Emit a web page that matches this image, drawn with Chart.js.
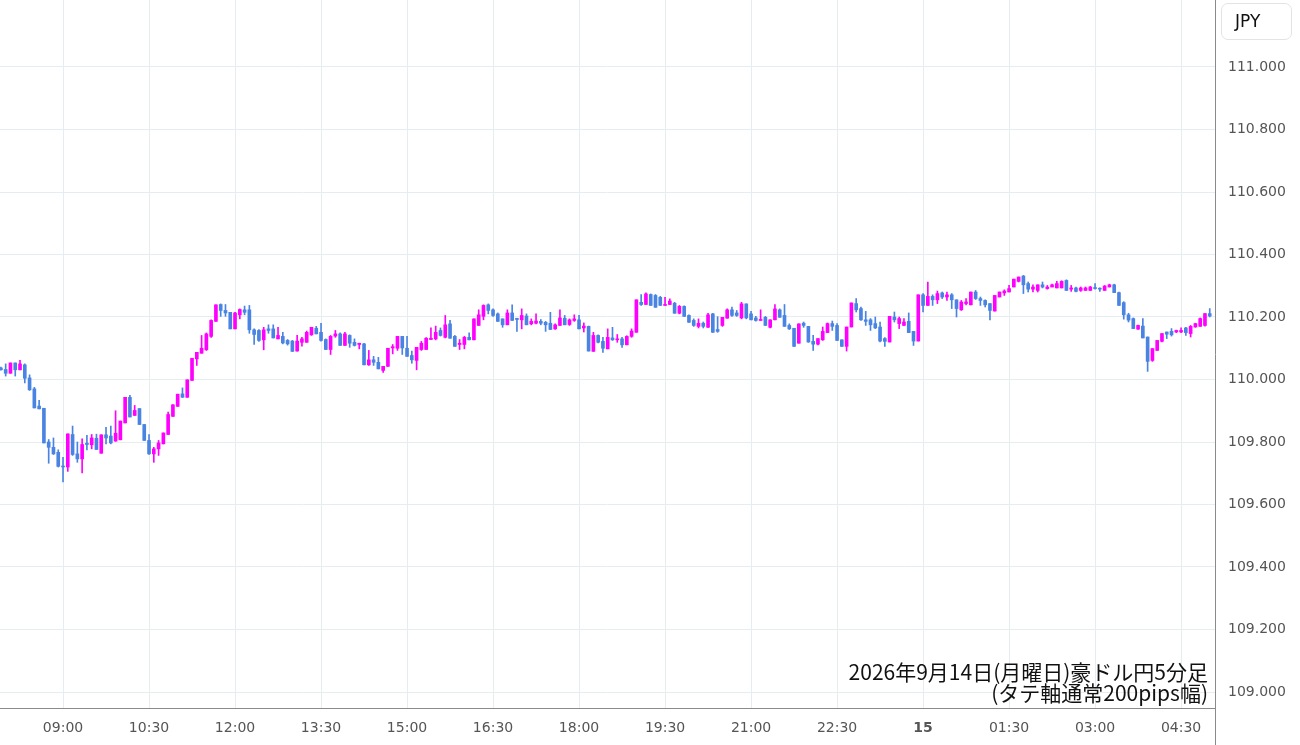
<!DOCTYPE html>
<html>
<head>
<meta charset="utf-8">
<script src="https://cdn.jsdelivr.net/npm/chart.js@4.4.1/dist/chart.umd.min.js"></script>
<style>
  html, body { margin: 0; padding: 0; background: #fff; }
  #wrap { position: relative; width: 1300px; height: 745px; }
  #jpy {
    position: absolute; left: 1221px; top: 3px; width: 71px; height: 37px;
    border: 1px solid #e3e3e3; border-radius: 7px; box-sizing: border-box;
    font: 17px "DejaVu Sans", sans-serif; color: #111; line-height: 35px; padding-left: 13px;
  }
</style>
</head>
<body>
<div id="wrap">
  <canvas id="chartContainer" width="1300" height="745"></canvas>
  <div id="jpy">JPY</div>
</div>
<script>
// 5-minute candles, index 0 = 09:00 on 9/14, first candle 07:55
const firstIndex = -13;
const opens = [
  110.037,110.032,110.020,110.053,110.031,110.047,110.005,109.970,109.915,109.908,109.800,109.783,109.767,
  109.722,109.720,109.824,109.762,109.746,109.796,109.791,109.812,109.764,109.823,109.819,109.803,109.807,109.861,109.943,109.885,
  109.907,109.856,109.805,109.762,109.778,109.794,109.824,109.882,109.914,109.954,109.943,109.997,110.066,110.084,110.095,110.138,
  110.186,110.240,110.221,110.215,110.162,110.207,110.223,110.223,110.159,110.157,110.127,110.162,110.162,110.130,110.138,110.125,
  110.123,110.091,110.119,110.119,110.143,110.164,110.151,110.128,110.096,110.139,110.146,110.109,110.141,110.119,110.112,110.114,
  110.047,110.063,110.055,110.029,110.042,110.101,110.100,110.138,110.100,110.077,110.061,110.096,110.096,110.128,110.130,110.157,
  110.135,110.178,110.138,110.112,110.112,110.135,110.127,110.173,110.202,110.239,110.223,110.210,110.194,110.175,110.213,110.196,
  110.191,110.203,110.178,110.180,110.186,110.183,110.180,110.162,110.173,110.196,110.176,110.189,110.191,110.165,110.170,110.090,
  110.141,110.122,110.098,110.133,110.127,110.130,110.111,110.138,110.151,110.247,110.240,110.272,110.269,110.263,110.237,110.240,
  110.244,110.212,110.234,110.205,110.189,110.170,110.180,110.167,110.210,110.160,110.173,110.196,110.223,110.213,110.197,110.242,
  110.210,110.197,110.189,110.199,110.167,110.191,110.223,110.205,110.173,110.164,110.116,110.180,110.170,110.122,110.113,110.127,
  110.150,110.179,110.173,110.127,110.106,110.168,110.243,110.227,110.191,110.191,110.179,110.168,110.131,110.120,110.200,110.179,
  110.173,110.186,110.154,110.123,110.271,110.237,110.266,110.255,110.277,110.264,110.271,110.255,110.223,110.243,110.239,110.280,
  110.259,110.253,110.243,110.219,110.264,110.277,110.280,110.296,110.314,110.331,110.307,110.289,110.285,110.303,110.291,110.296,
  110.293,110.293,110.317,110.289,110.293,110.285,110.285,110.285,110.293,110.291,110.285,110.296,110.303,110.278,110.246,110.207,
  110.195,110.161,110.171,110.136,110.061,110.093,110.122,110.152,110.154,110.152,110.152,110.165,110.147,110.168,110.170,110.173,
  110.211
];
const highs = [
  110.040,110.050,110.053,110.053,110.061,110.050,110.015,109.975,109.933,109.908,109.808,109.813,109.775,
  109.751,109.826,109.851,109.800,109.810,109.821,109.824,109.825,109.823,109.847,109.851,109.900,109.867,109.943,109.949,109.917,
  109.907,109.856,109.824,109.783,109.805,109.829,109.896,109.920,109.953,109.973,109.999,110.068,110.087,110.141,110.149,110.191,
  110.239,110.242,110.240,110.215,110.215,110.226,110.235,110.237,110.162,110.160,110.167,110.175,110.175,110.167,110.151,110.128,
  110.125,110.141,110.135,110.155,110.167,110.170,110.180,110.130,110.141,110.157,110.149,110.151,110.143,110.130,110.116,110.116,
  110.093,110.074,110.071,110.042,110.100,110.112,110.138,110.138,110.138,110.091,110.103,110.122,110.134,110.165,110.171,110.165,
  110.205,110.189,110.141,110.128,110.138,110.149,110.194,110.223,110.239,110.242,110.226,110.213,110.194,110.223,110.239,110.196,
  110.226,110.210,110.194,110.210,110.192,110.186,110.215,110.178,110.223,110.205,110.194,110.207,110.205,110.181,110.171,110.151,
  110.143,110.135,110.162,110.167,110.144,110.135,110.140,110.162,110.255,110.272,110.277,110.274,110.272,110.266,110.263,110.258,
  110.247,110.237,110.236,110.207,110.194,110.194,110.184,110.212,110.212,110.201,110.199,110.226,110.232,110.221,110.247,110.242,
  110.218,110.202,110.223,110.202,110.191,110.240,110.226,110.240,110.178,110.164,110.178,110.184,110.170,110.141,110.131,110.168,
  110.181,110.187,110.179,110.127,110.168,110.245,110.259,110.232,110.218,110.195,110.200,110.184,110.134,110.202,110.216,110.200,
  110.195,110.213,110.154,110.271,110.275,110.312,110.271,110.283,110.280,110.280,110.275,110.255,110.253,110.259,110.280,110.285,
  110.264,110.255,110.243,110.269,110.280,110.287,110.301,110.321,110.328,110.333,110.312,110.303,110.303,110.312,110.301,110.305,
  110.314,110.316,110.319,110.301,110.296,110.296,110.296,110.298,110.307,110.293,110.301,110.305,110.305,110.280,110.249,110.212,
  110.197,110.174,110.195,110.136,110.099,110.125,110.147,110.152,110.163,110.158,110.165,110.167,110.173,110.180,110.197,110.211,
  110.227
];
const lows = [
  110.030,110.011,110.020,110.011,110.031,109.989,109.965,109.909,109.906,109.797,109.732,109.760,109.720,
  109.672,109.706,109.757,109.735,109.701,109.775,109.778,109.776,109.764,109.794,109.794,109.802,109.807,109.861,109.880,109.885,
  109.856,109.805,109.760,109.735,109.757,109.794,109.824,109.882,109.914,109.943,109.943,109.997,110.045,110.084,110.093,110.135,
  110.186,110.202,110.202,110.162,110.162,110.194,110.207,110.148,110.112,110.122,110.095,110.148,110.133,110.130,110.114,110.110,
  110.090,110.091,110.107,110.119,110.141,110.146,110.123,110.096,110.080,110.135,110.109,110.109,110.103,110.107,110.098,110.047,
  110.045,110.045,110.034,110.023,110.042,110.082,110.093,110.080,110.074,110.052,110.031,110.093,110.096,110.128,110.127,110.139,
  110.133,110.132,110.106,110.096,110.098,110.127,110.127,110.173,110.191,110.210,110.202,110.186,110.167,110.175,110.189,110.154,
  110.162,110.175,110.175,110.178,110.175,110.154,110.160,110.160,110.173,110.175,110.173,110.186,110.162,110.152,110.091,110.090,
  110.117,110.087,110.098,110.125,110.119,110.103,110.111,110.135,110.151,110.237,110.240,110.237,110.231,110.237,110.237,110.240,
  110.212,110.210,110.202,110.183,110.170,110.165,110.165,110.167,110.151,110.151,110.170,110.196,110.202,110.202,110.194,110.194,
  110.191,110.187,110.189,110.173,110.165,110.191,110.199,110.170,110.160,110.106,110.116,110.167,110.119,110.093,110.111,110.125,
  110.150,110.157,110.125,110.106,110.091,110.168,110.216,110.189,110.173,110.157,110.163,110.120,110.106,110.120,110.184,110.163,
  110.173,110.150,110.109,110.123,110.216,110.237,110.237,110.243,110.259,110.253,110.227,110.200,110.221,110.239,110.239,110.256,
  110.237,110.232,110.191,110.219,110.264,110.269,110.280,110.296,110.312,110.275,110.280,110.280,110.280,110.293,110.289,110.296,
  110.293,110.293,110.285,110.282,110.280,110.282,110.285,110.285,110.289,110.282,110.285,110.296,110.278,110.237,110.193,110.184,
  110.163,110.160,110.133,110.026,110.058,110.093,110.120,110.131,110.139,110.150,110.150,110.141,110.136,110.167,110.170,110.171,
  110.200
];
const closes = [
  110.031,110.020,110.053,110.031,110.050,110.004,109.967,109.909,109.906,109.797,109.783,109.762,109.722,
  109.720,109.826,109.760,109.746,109.792,109.792,109.813,109.776,109.823,109.813,109.797,109.828,109.867,109.943,109.880,109.901,
  109.856,109.805,109.762,109.778,109.797,109.829,109.888,109.919,109.953,109.943,109.999,110.068,110.087,110.100,110.146,110.189,
  110.239,110.221,110.213,110.162,110.213,110.224,110.215,110.159,110.144,110.125,110.159,110.157,110.133,110.141,110.117,110.114,
  110.090,110.123,110.130,110.151,110.167,110.146,110.125,110.096,110.138,110.146,110.109,110.146,110.116,110.109,110.116,110.047,
  110.063,110.055,110.034,110.042,110.100,110.105,110.138,110.101,110.074,110.063,110.103,110.116,110.132,110.132,110.151,110.141,
  110.175,110.132,110.106,110.116,110.135,110.127,110.194,110.207,110.237,110.221,110.205,110.186,110.175,110.213,110.189,110.192,
  110.205,110.175,110.186,110.187,110.180,110.175,110.160,110.175,110.197,110.175,110.191,110.194,110.162,110.171,110.091,110.141,
  110.119,110.100,110.135,110.127,110.130,110.111,110.138,110.155,110.255,110.240,110.274,110.237,110.231,110.237,110.240,110.251,
  110.212,110.234,110.202,110.183,110.173,110.180,110.170,110.207,110.151,110.154,110.199,110.223,110.205,110.205,110.242,110.197,
  110.191,110.189,110.191,110.173,110.191,110.226,110.199,110.170,110.162,110.106,110.178,110.173,110.120,110.113,110.131,110.154,
  110.179,110.170,110.125,110.106,110.168,110.245,110.223,110.191,110.186,110.175,110.165,110.123,110.122,110.202,110.191,110.195,
  110.184,110.150,110.123,110.271,110.237,110.266,110.255,110.275,110.264,110.271,110.255,110.227,110.248,110.248,110.280,110.259,
  110.253,110.239,110.221,110.269,110.280,110.283,110.291,110.321,110.328,110.303,110.289,110.296,110.303,110.296,110.296,110.303,
  110.307,110.314,110.285,110.293,110.282,110.293,110.293,110.296,110.291,110.289,110.299,110.303,110.278,110.237,110.207,110.190,
  110.163,110.173,110.133,110.058,110.099,110.125,110.147,110.145,110.143,110.157,110.157,110.150,110.170,110.179,110.195,110.211,
  110.203
];

const tickIndex = [0, 18, 36, 54, 72, 90, 108, 126, 144, 162, 180, 198, 216, 234];
const tickLabels = ['09:00', '10:30', '12:00', '13:30', '15:00', '16:30', '18:00', '19:30', '21:00', '22:30', '15', '01:30', '03:00', '04:30'];
const priceTicks = [109.0, 109.2, 109.4, 109.6, 109.8, 110.0, 110.2, 110.4, 110.6, 110.8, 111.0];

const UP = '#ff00ff';
const DOWN = '#4a84e2';
const GRID = '#e6edf1';
const AXIS = '#8a8a8a';

const bodies = opens.map((o, i) => ({ x: firstIndex + i, y: [o, closes[i]] }));
const wicks = opens.map((o, i) => ({ x: firstIndex + i, y: [lows[i], highs[i]] }));
const colors = opens.map((o, i) => closes[i] >= o ? UP : DOWN);

const notePlugin = {
  id: 'note',
  afterDraw(chart) {
    const c = chart.ctx;
    const y = chart.scales.y;
    c.save();
    // right axis line runs down to the bottom edge
    c.strokeStyle = AXIS;
    c.lineWidth = 1;
    c.beginPath();
    c.moveTo(y.left + 0.5, chart.chartArea.bottom);
    c.lineTo(y.left + 0.5, chart.height);
    c.stroke();
    c.fillStyle = '#111';
    c.font = '21px "Noto Sans CJK JP", sans-serif';
    c.textAlign = 'right';
    c.textBaseline = 'middle';
    c.fillText('2026年9月14日(月曜日)豪ドル円5分足', 1208, 672);
    c.fillText('(タテ軸通常200pips幅)', 1208, 693);
    c.restore();
  }
};

const noPad = (s) => { s.paddingTop = 0; s.paddingBottom = 0; s.paddingLeft = 0; s.paddingRight = 0; };

const ctx = document.getElementById('chartContainer').getContext('2d');
new Chart(ctx, {
  type: 'bar',
  data: {
    datasets: [
      { data: bodies, backgroundColor: colors, barThickness: 3, minBarLength: 1, grouped: false },
      { data: wicks, backgroundColor: colors, barThickness: 1, minBarLength: 1, grouped: false }
    ]
  },
  plugins: [notePlugin],
  options: {
    responsive: false,
    animation: false,
    layout: { padding: 0, autoPadding: false },
    plugins: { legend: { display: false }, tooltip: { enabled: false } },
    scales: {
      x: {
        type: 'linear',
        offset: false,
        min: -13.19,
        max: 241.1,
        afterBuildTicks: (s) => { s.ticks = tickIndex.map(v => ({ value: v })); },
        afterFit: (s) => { s.height = 37; noPad(s); },
        grid: { color: GRID, drawTicks: false, offset: false },
        border: { color: AXIS },
        ticks: {
          padding: 12,
          color: '#555',
          maxRotation: 0,
          autoSkip: false,
          font: (c) => ({ family: '"DejaVu Sans", sans-serif', size: 14, weight: c.tick && c.tick.value === 180 ? 'bold' : 'normal' }),
          callback: (v) => tickLabels[tickIndex.indexOf(v)]
        }
      },
      y: {
        position: 'right',
        min: 108.9488,
        max: 111.2144,
        afterBuildTicks: (s) => { s.ticks = priceTicks.map(v => ({ value: v })); },
        afterFit: (s) => { s.width = 85; noPad(s); },
        grid: { color: GRID, drawTicks: false },
        border: { color: AXIS },
        ticks: {
          padding: 13,
          color: '#555',
          font: { family: '"DejaVu Sans", sans-serif', size: 14 },
          callback: (v) => v.toFixed(3)
        }
      }
    }
  }
});
</script>
</body>
</html>
